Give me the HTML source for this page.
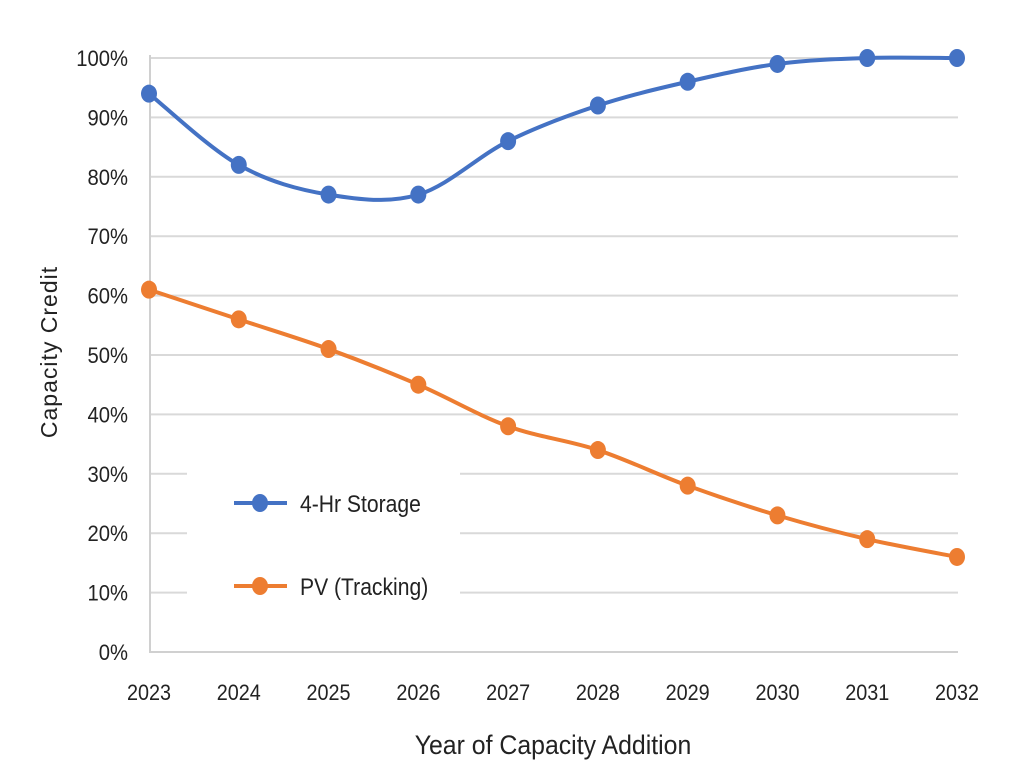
<!DOCTYPE html>
<html><head><meta charset="utf-8"><style>
body{margin:0;background:#fff;width:1011px;height:766px;overflow:hidden}
svg text{font-family:"Liberation Sans",sans-serif;fill:#222}
</style></head><body>
<svg id="c" width="1011" height="766" xmlns="http://www.w3.org/2000/svg"></svg>
<script>
const s=document.getElementById('c');let h='';
const X=i=>149+i*(957-149)/9, Y=v=>652-5.94*v;
function T(x,y,str,fs,anchor,sx){sx=sx||0.9;return `<g transform="translate(${x},${y}) scale(${sx},1)"><text x="0" y="0" font-size="${fs}" text-anchor="${anchor}">${str}</text></g>`;}
for(let v=10;v<=100;v+=10)h+=`<line x1="150" x2="958" y1="${Y(v)}" y2="${Y(v)}" stroke="#d9d9d9" stroke-width="2"/>`;
h+=`<rect x="187" y="465" width="273" height="140" fill="#fff"/>`;
h+=`<line x1="150" x2="150" y1="55" y2="653" stroke="#d0d0d0" stroke-width="2"/>`;
h+=`<line x1="149" x2="958" y1="652" y2="652" stroke="#d0d0d0" stroke-width="2"/>`;
for(let v=0;v<=100;v+=10)h+=T(128,Y(v)+8,v+'%',22,'end',0.92);
for(let i=0;i<10;i++)h+=T(X(i),700,2023+i,22,'middle',0.9);
h+=T(553,754,'Year of Capacity Addition',27,'middle',0.92);
h+=`<text transform="translate(57,352) rotate(-90)" font-size="23" text-anchor="middle" style="letter-spacing:1px">Capacity Credit</text>`;
function path(d){const p=d.map((v,i)=>[X(i),Y(v)]);let o=`M${p[0][0]},${p[0][1]}`;
for(let i=0;i<p.length-1;i++){const a=p[Math.max(i-1,0)],b=p[i],c=p[i+1],e=p[Math.min(i+2,p.length-1)];
o+=`C${b[0]+(c[0]-a[0])/6},${b[1]+(c[1]-a[1])/6} ${c[0]-(e[0]-b[0])/6},${c[1]-(e[1]-b[1])/6} ${c[0]},${c[1]}`;}return o;}
function ser(d,col){h+=`<path d="${path(d)}" fill="none" stroke="${col}" stroke-width="4"/>`;
d.forEach((v,i)=>h+=`<ellipse cx="${X(i)}" cy="${Y(v)}" rx="8" ry="9" fill="${col}"/>`);}
ser([94,82,77,77,86,92,96,99,100,100],'#4472C4');
ser([61,56,51,45,38,34,28,23,19,16],'#ED7D31');
h+=`<line x1="234" x2="287" y1="503" y2="503" stroke="#4472C4" stroke-width="4"/><ellipse cx="260" cy="503" rx="8" ry="9" fill="#4472C4"/>`;
h+=T(300,512,'4-Hr Storage',24,'start',0.88);
h+=`<line x1="234" x2="287" y1="586" y2="586" stroke="#ED7D31" stroke-width="4"/><ellipse cx="260" cy="586" rx="8" ry="9" fill="#ED7D31"/>`;
h+=T(300,595,'PV (Tracking)',24,'start',0.88);
s.innerHTML=h;
</script>
</body></html>
